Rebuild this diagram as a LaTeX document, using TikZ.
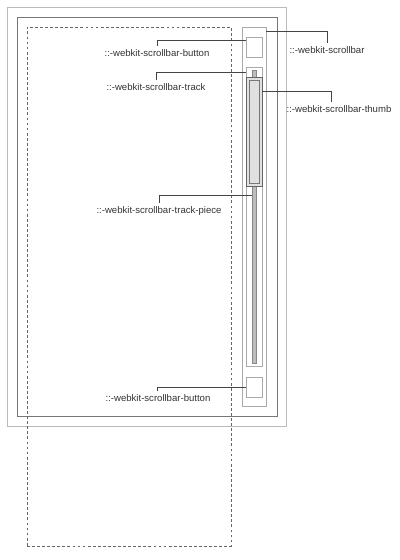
\documentclass[tikz,border=0pt]{standalone}
\usepackage{fontspec}
\setmainfont{Liberation Sans}
\usepackage{xcolor}
\usepackage{tikz}
\usetikzlibrary{fit, positioning}

\definecolor{frameLight}{HTML}{BBBBBB}
\definecolor{frameDark}{HTML}{777777}
\definecolor{barGray}{HTML}{AAAAAA}
\definecolor{thumbEdge}{HTML}{666666}
\definecolor{thumbFill}{HTML}{E0E0E0}
\definecolor{pieceFill}{HTML}{BDBDBD}
\definecolor{pieceEdge}{HTML}{888888}
\definecolor{leaderGray}{HTML}{444444}
\definecolor{textGray}{HTML}{333333}

\begin{document}
\begin{tikzpicture}[x=0.025cm, y=-0.025cm]
% Define styles
\tikzstyle{box} = [draw=barGray, line width=0.7pt, inner sep=0pt]
\tikzstyle{lbl} = [font=\fontsize{6.8}{8}\selectfont, text=textGray, inner sep=2.5pt, anchor=north]
\tikzstyle{leader} = [draw=leaderGray, line width=0.7pt]
\useasboundingbox (0,0) rectangle (400,560);
% Define nodes
\node[box, draw=frameLight, fit={(7,7) (286,426)}] (window) {};
\node[box, draw=frameDark, fit={(17,17) (277,416)}] (viewport) {};
\node[box, draw=thumbEdge, dashed, dash pattern=on 2pt off 1.6pt, fit={(27,27) (231,546)}] (content) {};
\node[box, fit={(242,27) (266,406)}] (scrollbar) {};
\node[box, fit={(246,37) (262,57)}] (btn_top) {};
\node[box, fit={(246,67) (262,366)}] (track) {};
\node[box, draw=pieceEdge, fill=pieceFill, fit={(252,70) (256,363)}] (track_piece) {};
\node[box, draw=thumbEdge, fill=thumbFill, fit={(246,77) (262,186)}] (thumb) {};
\node[box, draw=frameDark, fit={(249.5,80) (259,183)}] (thumb_inner) {};
\node[box, fit={(246,377) (262,397)}] (btn_bottom) {};
% Labels
\node[lbl] (lbl_scrollbar) at (327,42.7) {::-webkit-scrollbar};
\node[lbl] (lbl_btn_top) at (157,45.7) {::-webkit-scrollbar-button};
\node[lbl] (lbl_track) at (156,80) {::-webkit-scrollbar-track};
\node[lbl] (lbl_thumb) at (339,101.7) {::-webkit-scrollbar-thumb};
\node[lbl] (lbl_piece) at (159,202.7) {::-webkit-scrollbar-track-piece};
\node[lbl] (lbl_btn_bottom) at (158,391) {::-webkit-scrollbar-button};
% Connect the nodes
\draw[leader] ([yshift=-3.6pt]scrollbar.north east) -| (lbl_scrollbar.north);
\draw[leader] ([yshift=-2.85pt]btn_top.north west) -| (lbl_btn_top.north);
\draw[leader] ([yshift=-4pt]track.north west) -| ([xshift=0.7pt]lbl_track.north);
\draw[leader] ([yshift=-11pt]thumb.north east) -| ([xshift=-5pt]lbl_thumb.north);
\draw[leader] ([yshift=-89.6pt]track_piece.north west) -| (lbl_piece.north);
\draw[leader] (btn_bottom.west) -| ([xshift=-0.7pt]lbl_btn_bottom.north);
\end{tikzpicture}
\end{document}
